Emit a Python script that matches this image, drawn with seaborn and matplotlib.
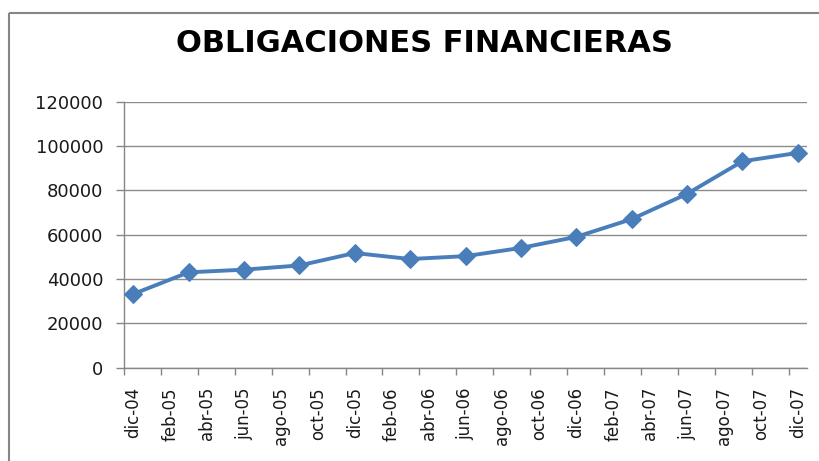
import numpy as np
import pandas as pd
import matplotlib
matplotlib.use('Agg')
import matplotlib.pyplot as plt
import seaborn as sns
from matplotlib.patches import Rectangle

# Datos (trimestrales)
fechas = ['2004-12', '2005-03', '2005-06', '2005-09', '2005-12', '2006-03',
          '2006-06', '2006-09', '2006-12', '2007-03', '2007-06', '2007-09',
          '2007-12']
valores = [33200, 43000, 44200, 46100, 51700, 49000, 50300, 54000, 59000,
           67000, 78400, 93100, 96900]
etiquetas_x = ['dic-04', 'feb-05', 'abr-05', 'jun-05', 'ago-05', 'oct-05',
               'dic-05', 'feb-06', 'abr-06', 'jun-06', 'ago-06', 'oct-06',
               'dic-06', 'feb-07', 'abr-07', 'jun-07', 'ago-07', 'oct-07',
               'dic-07']
y_ticks = [0, 20000, 40000, 60000, 80000, 100000, 120000]

per = pd.PeriodIndex(fechas, freq='M')
inicio = per[0]
df = pd.DataFrame({'mes': [(p - inicio).n for p in per], 'valor': valores})

sns.set_style('white')
plt.rcParams['font.family'] = ['DejaVu Sans']

fig = plt.figure(figsize=(8.19, 4.61), dpi=100)
ax = fig.add_axes([124 / 819, 1 - 367.6 / 461, (807 - 124) / 819, (367.6 - 101.7) / 461])

# borde del grafico
fig.patches.append(Rectangle((9 / 819, 1 - 13 / 461), 1.2, -1.2,
                             transform=fig.transFigure, fill=False,
                             edgecolor='#868686', linewidth=1.5))

sns.lineplot(data=df, x='mes', y='valor', ax=ax, color='#4a7ebb',
             linewidth=2.8, marker='D', markersize=9,
             markeredgecolor='#4a7ebb', zorder=3)

n_meses = 2 * (len(etiquetas_x) - 1)
ax.set_xlim(-0.5, n_meses + 0.5)
ax.set_ylim(y_ticks[0], y_ticks[-1])
ax.set_yticks(y_ticks)
ax.set_yticklabels([str(v) for v in y_ticks], fontsize=13, color='#1a1a1a')
ax.set_xticks(np.arange(0, n_meses + 1, 2))
ax.set_xticklabels(etiquetas_x, rotation=90, fontsize=12, color='#1a1a1a')
ax.set_xticks(np.arange(-0.5, n_meses, 2), minor=True)
ax.tick_params(axis='x', which='major', length=0, pad=14)
ax.tick_params(axis='x', which='minor', length=5, color='#868686', width=1,
               direction='out', bottom=True)
ax.tick_params(axis='y', length=6, color='#868686', width=1, direction='out',
               left=True, pad=9)
ax.set_xlabel('')
ax.set_ylabel('')

ax.grid(True, axis='y', color='#8c8c8c', linewidth=1)
ax.grid(False, axis='x')
for s in ['top', 'right']:
    ax.spines[s].set_visible(False)
for s in ['left', 'bottom']:
    ax.spines[s].set_color('#868686')
    ax.spines[s].set_linewidth(1)

fig.text(0.518, 1 - 44 / 461, 'OBLIGACIONES FINANCIERAS', ha='center',
         va='center', fontsize=22, fontweight='bold', family='DejaVu Sans',
         color='black')

fig.savefig('out.png', dpi=100, facecolor='white')
